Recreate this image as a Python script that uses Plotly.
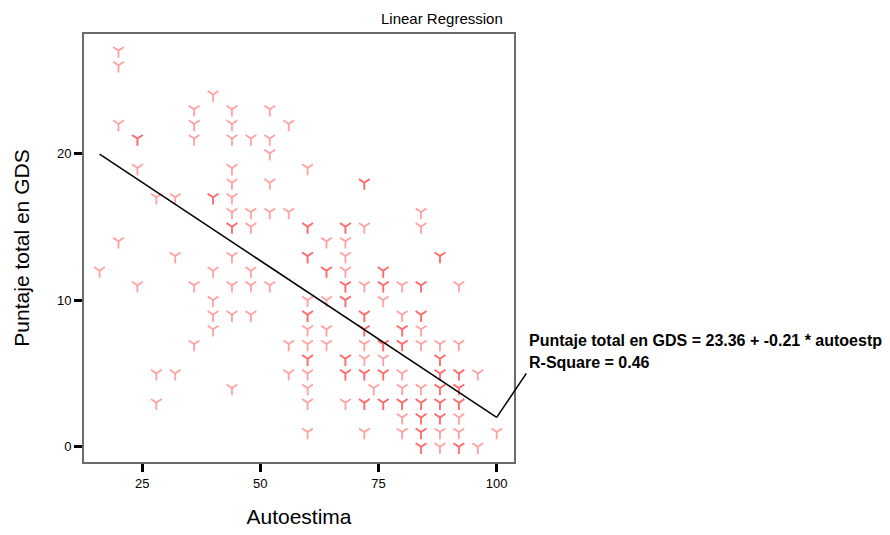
import plotly.graph_objects as go

# Autoestima levels (x) and the GDS scores observed at each level (y)
autoestima_levels = [16, 20, 24, 28, 32, 36, 40, 44, 48, 52, 56, 60, 64, 68, 72, 74, 76, 80, 84, 88, 92, 96, 100]
gds_by_level = [
    [12],
    [27, 26, 22, 14],
    [21, 21, 19, 11],
    [17, 5, 3],
    [17, 13, 5],
    [23, 22, 21, 11, 7],
    [24, 17, 17, 12, 10, 9, 8],
    [23, 22, 21, 19, 18, 17, 16, 15, 15, 13, 11, 9, 4],
    [21, 16, 15, 12, 11, 9],
    [23, 21, 20, 18, 16, 11],
    [22, 16, 7, 5],
    [19, 15, 15, 13, 13, 10, 9, 9, 8, 7, 6, 6, 5, 4, 3, 1],
    [14, 12, 12, 10, 8, 7],
    [15, 15, 14, 13, 12, 11, 11, 10, 10, 6, 6, 5, 5, 3],
    [18, 18, 15, 11, 9, 9, 8, 8, 7, 6, 5, 5, 3, 3, 1],
    [4],
    [12, 12, 11, 11, 10, 7, 7, 6, 5, 5, 3, 3],
    [11, 9, 8, 8, 7, 7, 5, 4, 3, 3, 2, 1],
    [16, 15, 11, 11, 9, 9, 8, 7, 4, 3, 3, 2, 2, 1, 1, 0, 0],
    [13, 13, 7, 6, 6, 5, 5, 4, 4, 3, 3, 2, 2, 1, 0],
    [11, 7, 5, 5, 4, 4, 3, 3, 2, 1, 0, 0],
    [5, 0],
    [1],
]

# Regression shown in the chart
fit_intercept = 23.36
fit_slope = -0.2136
fit_x = [16, 100]
x_ticks = [25, 50, 75, 100]
y_ticks = [0, 10, 20]
equation_text = "Puntaje total en GDS = 23.36 + -0.21 * autoestp"
rsquare_text = "R-Square = 0.46"

xs, ys = [], []
for lv, vals in zip(autoestima_levels, gds_by_level):
    for v in vals:
        xs.append(lv)
        ys.append(v)

fit_y = [fit_intercept + fit_slope * x for x in fit_x]

fig = go.Figure()
fig.add_trace(go.Scatter(
    x=xs, y=ys, mode="markers",
    marker=dict(symbol="y-down-open", size=9,
                color="rgba(255,30,30,0.42)",
                line=dict(width=1.8, color="rgba(255,30,30,0.42)")),
    hoverinfo="x+y",
))
fig.add_trace(go.Scatter(
    x=fit_x, y=fit_y, mode="lines",
    line=dict(color="black", width=1.5),
    hoverinfo="skip",
))

axis_common = dict(
    ticks="outside", ticklen=8, tickwidth=3, tickcolor="black",
    showline=True, linecolor="#6b6b6b", linewidth=2, mirror=True,
    showgrid=False, zeroline=False, automargin=False,
    tickfont=dict(family="Liberation Sans, Arial", size=13, color="black"),
)

fig.update_layout(
    width=890, height=535,
    margin=dict(l=76, r=384, t=26, b=81),
    plot_bgcolor="white", paper_bgcolor="white",
    showlegend=False,
    font=dict(family="Liberation Sans, Arial", color="black"),
    xaxis=dict(range=[12.7, 103.66], tickvals=x_ticks,
               title=dict(text="Autoestima", font=dict(size=21), standoff=20),
               **axis_common),
    yaxis=dict(range=[-1.04, 28.13], tickvals=y_ticks,
               title=dict(text="Puntaje total en GDS", font=dict(size=21), standoff=22),
               **axis_common),
)

fig.add_annotation(
    text="Linear Regression", xref="paper", yref="paper",
    x=0.979, y=1.037, xanchor="right", yanchor="middle", showarrow=False,
    font=dict(size=15, family="Liberation Sans, Arial"),
)
fig.add_annotation(
    text="<b>" + equation_text + "</b>", xref="paper", yref="paper",
    x=1.031, y=0.285, xanchor="left", yanchor="middle", showarrow=False,
    font=dict(size=16, family="Liberation Sans, Arial"),
)
fig.add_annotation(
    text="<b>" + rsquare_text + "</b>", xref="paper", yref="paper",
    x=1.031, y=0.2336, xanchor="left", yanchor="middle", showarrow=False,
    font=dict(size=16, family="Liberation Sans, Arial"),
)
fig.add_annotation(
    x=fit_x[1], y=fit_y[1], xref="x", yref="y",
    text=" ", font=dict(size=1), showarrow=True, arrowhead=0,
    arrowwidth=1.5, arrowcolor="black", ax=31, ay=-46, standoff=0,
)

fig.write_html("out.html")
